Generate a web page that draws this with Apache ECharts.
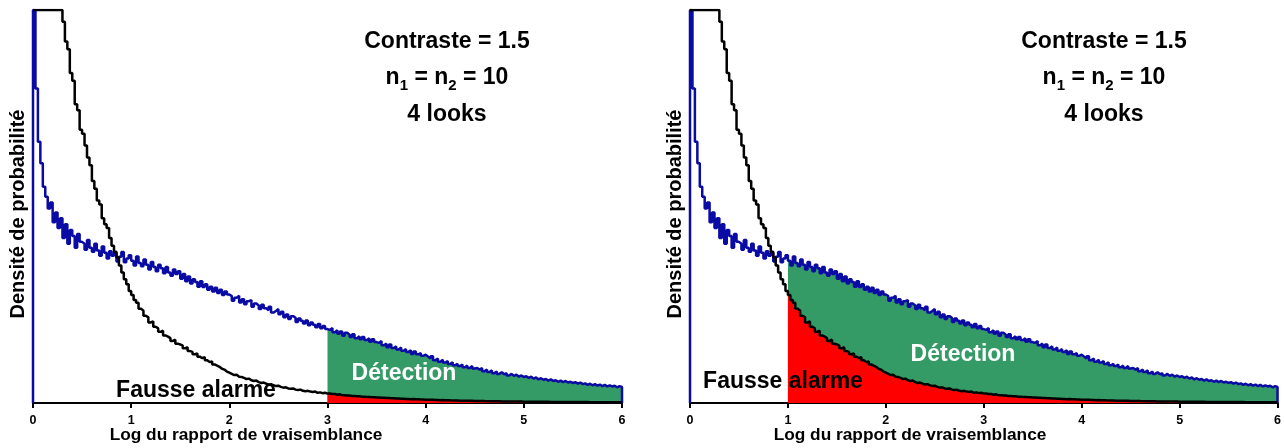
<!DOCTYPE html>
<html><head><meta charset="utf-8">
<script src="https://cdn.jsdelivr.net/npm/echarts@6/dist/echarts.min.js"></script>
<style>html,body{margin:0;padding:0;background:#fff}#c{width:1284px;height:448px}</style>
</head><body><div id="c"></div>
<script>
// Histogram bins: left edges at i * binWidth, from 0 to 6
const binWidth = 0.025;
const xTicks = ['0','1','2','3','4','5','6'];
const thresholds = [3, 1];
const annotation = ['Contraste = 1.5', 'n1 = n2 = 10', '4 looks'];
const xTitle = 'Log du rapport de vraisemblance';
const yTitle = 'Densité de probabilité';
// Detection density (blue); 100 = top of the plot (curve runs off the top there)
const detection = [
 100, 80, 66.5, 61, 55, 52.5, 49.5, 51, 46, 48.5, 44.5, 47, 42, 45.5, 40.5, 44, 42.5, 39.5, 43, 41,
 40.5, 39, 41.5, 39.5, 38.5, 40.5, 38.8, 37.5, 39.8, 38.2, 36.8, 38.6, 37.5, 38.2, 36, 37.2, 38.4, 35.8, 36.8, 37.6,
 36.2, 35, 37.3, 35.6, 34.8, 36.5, 35.2, 34, 35.9, 34.6, 33.5, 35.2, 34.3, 33, 34.6, 33.2, 32.4, 34, 32.8, 33.5,
 31.6, 32.8, 31, 32.2, 30.4, 31.5, 30.8, 29.6, 31, 29.5, 30.2, 28.8, 29.6, 28.4, 29.3, 28, 28.8, 27.5, 28.4, 27.6,
 27.2, 26.0, 26.8, 27.3, 25.6, 26.4, 25.1, 25.9, 26.2, 24.5, 25.3, 24.8, 23.9, 25.0, 24.1, 23.6, 24.5, 23.0, 23.4, 23.9,
 22.6, 23.2, 21.8, 22.5, 21.4, 22.1, 21.7, 20.6, 21.5, 20.9, 20.2, 21.0, 19.8, 20.5, 19.9, 19.3, 20.1, 19.0, 19.6, 18.8,
 18.6, 19.1, 18.0, 18.5, 17.6, 18.2, 17.1, 17.9, 17.4, 16.8, 17.5, 16.5, 17.0, 16.2, 16.8, 16.0, 16.5, 15.6, 16.2, 15.5,
 15.3, 15.8, 14.7, 15.1, 14.2, 14.9, 14.0, 14.4, 13.6, 14.1, 13.3, 13.7, 13.0, 13.4, 12.5, 13.1, 12.4, 12.7, 12.0, 12.3,
 11.8, 11.3, 11.9, 10.9, 11.3, 10.5, 11.0, 10.3, 10.7, 9.9, 10.4, 9.6, 10.0, 9.4, 9.8, 9.1, 9.5, 8.9, 9.4, 8.8,
 8.9, 8.5, 8.9, 8.1, 8.5, 7.9, 8.3, 7.6, 8.0, 7.4, 7.8, 7.3, 7.6, 7.0, 7.4, 6.9, 7.2, 6.7, 7.0, 6.6,
 6.8, 6.4, 6.7, 6.2, 6.5, 6.0, 6.3, 5.9, 6.1, 5.7, 6.0, 5.6, 5.8, 5.4, 5.7, 5.3, 5.6, 5.2, 5.4, 5.1,
 5.3, 4.9, 5.2, 4.8, 5.0, 4.6, 4.9, 4.5, 4.8, 4.4, 4.7, 4.3, 4.6, 4.2, 4.5, 4.2, 4.4, 4.0, 4.3, 4.1
];
// False alarm density (black)
const falseAlarm = [
 100, 100, 100, 100, 100, 100, 100, 100, 100, 100, 100, 100, 97, 92, 90, 84, 82, 76, 74.5, 69.5,
 68.5, 65.5, 62.5, 60.5, 56.5, 54.5, 51.5, 50.5, 47, 45.5, 44.5, 42, 40, 38.5, 37, 35, 33.2, 31.5, 30.2, 28.5,
 27.5, 26.2, 25.5, 24, 23.5, 22.2, 21.8, 20.5, 20.8, 19.4, 19, 18.1, 18.4, 17.2, 16.9, 16.5, 15.8, 16.1, 15.1, 14.9,
 14.6, 13.9, 14.2, 13.2, 13.0, 12.4, 12.6, 11.8, 11.4, 11.7, 10.9, 10.4, 10.6, 9.8, 9.5, 9.2, 8.7, 8.5, 8.0, 7.7,
 7.4, 7.1, 7.2, 6.7, 6.6, 6.4, 6.1, 6.2, 5.8, 5.6, 5.7, 5.3, 5.1, 5.2, 4.9, 4.7, 4.8, 4.5, 4.3, 4.4,
 4.1, 3.9, 4.0, 3.7, 3.6, 3.7, 3.4, 3.3, 3.4, 3.1, 3.0, 3.1, 2.9, 2.8, 2.9, 2.6, 2.7, 2.5, 2.6, 2.4,
 2.4, 2.3, 2.3, 2.1, 2.2, 2.0, 2.0, 1.9, 1.9, 1.8, 1.8, 1.7, 1.7, 1.6, 1.6, 1.5, 1.55, 1.45, 1.45, 1.4,
 1.4, 1.32, 1.35, 1.26, 1.28, 1.2, 1.22, 1.14, 1.15, 1.08, 1.1, 1.03, 1.04, 0.98, 0.99, 0.93, 0.94, 0.88, 0.9, 0.85,
 0.84, 0.8, 0.81, 0.77, 0.76, 0.73, 0.74, 0.7, 0.69, 0.67, 0.66, 0.63, 0.63, 0.6, 0.6, 0.58, 0.57, 0.55, 0.55, 0.52,
 0.52, 0.5, 0.5, 0.48, 0.47, 0.46, 0.45, 0.44, 0.43, 0.42, 0.41, 0.4, 0.4, 0.38, 0.38, 0.37, 0.36, 0.35, 0.35, 0.34,
 0.34, 0.33, 0.33, 0.32, 0.31, 0.31, 0.3, 0.3, 0.29, 0.29, 0.28, 0.28, 0.27, 0.27, 0.26, 0.26, 0.26, 0.25, 0.25, 0.25,
 0.24, 0.24, 0.24, 0.23, 0.23, 0.23, 0.22, 0.22, 0.22, 0.21, 0.21, 0.21, 0.21, 0.2, 0.2, 0.2, 0.2, 0.2, 0.19, 0.19
];

const FONT = '"Liberation Sans", Arial, sans-serif';
const BLUE = '#0a0aa5', GREEN = '#349a66', RED = '#ff0000';
const xmax = 6;

function pts(vals, fromX, closeStart, closeEnd) {
  const out = [];
  if (closeStart) out.push([0, 0]);
  vals.forEach((v, i) => {
    const x = Math.round(i * binWidth * 1000) / 1000;
    if (x >= fromX - 1e-9) out.push([x, v]);
  });
  out.push([xmax, closeEnd ? 0 : vals[vals.length - 1]]);
  return out;
}

const panels = [{left: 33, thr: thresholds[0]}, {left: 690, thr: thresholds[1]}];
const grids = [], xAxes = [], yAxes = [], series = [];
panels.forEach((p, k) => {
  grids.push({left: p.left, top: 10, width: 589, height: 393});
  xAxes.push({type: 'value', gridIndex: k, min: 0, max: 6, interval: 1,
    axisLine: {lineStyle: {color: '#000', width: 2}},
    axisTick: {length: 5, lineStyle: {color: '#000', width: 2}},
    splitLine: {show: false},
    axisLabel: {formatter: v => xTicks[v], color: '#000', fontWeight: 'bold', fontSize: 12.5, fontFamily: FONT, margin: 11}
  });
  yAxes.push({type: 'value', gridIndex: k, min: 0, max: 100, show: false});
  const common = {type: 'line', xAxisIndex: k, yAxisIndex: k, step: 'end', showSymbol: false, symbol: 'none', animation: false, silent: true};
  series.push(Object.assign({}, common, {data: pts(detection, p.thr, false, false), lineStyle: {width: 0}, areaStyle: {color: GREEN, opacity: 1}, z: 1}));
  series.push(Object.assign({}, common, {data: pts(falseAlarm, p.thr, false, false), lineStyle: {width: 0}, areaStyle: {color: RED, opacity: 1}, z: 2}));
  series.push(Object.assign({}, common, {data: pts(detection, 0, true, true), lineStyle: {color: BLUE, width: 2.5}, z: 4}));
  series.push(Object.assign({}, common, {data: pts(falseAlarm, 0, false, false), lineStyle: {color: '#000', width: 2.5}, z: 5}));
});

function txt(x, y, text, size, color, extra) {
  return Object.assign({type: 'text', x: x, y: y, z: 100,
    style: {text: text, fill: color, fontSize: size, fontWeight: 'bold', fontFamily: FONT, align: 'center', verticalAlign: 'middle'}}, extra || {});
}
const graphics = [];
const annX = [447, 1104], yTitleX = [18, 675], xTitleX = [246, 910];
const faX = [196, 783], faY = [391, 382], detX = [404, 963], detY = [374, 355];
[0, 1].forEach(k => {
  graphics.push(txt(annX[k], 42, annotation[0], 23, '#000'));
  graphics.push({type: 'text', x: annX[k], y: 78, z: 100, style: {
    text: '{m|n}{s|1}{m| = n}{s|2}{m| = 10}', align: 'center', verticalAlign: 'middle',
    rich: {m: {fontSize: 23, fontWeight: 'bold', fontFamily: FONT, fill: '#000'},
           s: {fontSize: 15, fontWeight: 'bold', fontFamily: FONT, fill: '#000', padding: [15, 0, 0, 0]}}}});
  graphics.push(txt(annX[k], 115, annotation[2], 23, '#000'));
  graphics.push(txt(yTitleX[k], 214, yTitle, 20, '#000', {rotation: Math.PI / 2}));
  graphics.push(txt(xTitleX[k], 435, xTitle, 17.3, '#000'));
  graphics.push(txt(faX[k], faY[k], 'Fausse alarme', 23, '#000'));
  graphics.push(txt(detX[k], detY[k], 'Détection', 23, '#fff'));
});

const chart = echarts.init(document.getElementById('c'), null, {renderer: 'canvas'});
chart.setOption({animation: false, grid: grids, xAxis: xAxes, yAxis: yAxes, series: series, graphic: graphics});
</script></body></html>
